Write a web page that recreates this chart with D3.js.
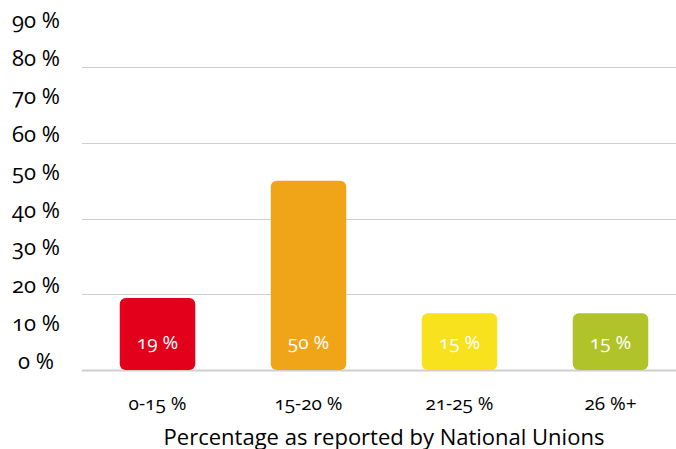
<!DOCTYPE html>
<html>
<head>
<meta charset="utf-8">
<script src="https://cdn.jsdelivr.net/npm/d3@7"></script>
<style>
  html, body { margin: 0; padding: 0; background: #fff; }
  svg text { font-family: "Open Sans", "Lato", sans-serif; font-feature-settings: "onum" 1; }
</style>
</head>
<body>
<svg id="chart" width="676" height="449"></svg>
<script>
// Share of respondents per reported percentage band
const categories = ["0-15 %", "15-20 %", "21-25 %", "26 %+"];
const values = [19, 50, 15, 15];
const valueLabels = ["19 %", "50 %", "15 %", "15 %"];
const colors = ["#E2001A", "#EFA517", "#F8E11D", "#B0C42A"];
const yTicks = [0, 10, 20, 30, 40, 50, 60, 70, 80, 90];
const gridTicks = [0, 20, 40, 60, 80];
const axisTitle = "Percentage as reported by National Unions";

const svg = d3.select("#chart");

const y = d3.scaleLinear().domain([0, 80]).range([370, 67]);
const x = d3.scaleBand().domain(categories).range([82, 686]).paddingInner(0.5).paddingOuter(0.25);

// Horizontal grid lines
svg.append("g").selectAll("line")
  .data(gridTicks)
  .join("line")
  .attr("x1", 82).attr("x2", 676)
  .attr("y1", d => Math.round(y(d)) + 0.5)
  .attr("y2", d => Math.round(y(d)) + 0.5)
  .attr("stroke", "#cfcfcf")
  .attr("stroke-width", d => d === 0 ? 2 : 1);

// Y tick labels (each label sits a little above its value)
svg.append("g").selectAll("text")
  .data(yTicks)
  .join("text")
  .attr("x", 36)
  .attr("y", d => y(d) - 1)
  .attr("text-anchor", "middle")
  .attr("font-size", 22)
  .attr("fill", "#000")
  .text(d => d + " %");

// Bars
svg.append("g").selectAll("rect")
  .data(values)
  .join("rect")
  .attr("x", (d, i) => x(categories[i]))
  .attr("width", x.bandwidth())
  .attr("y", d => y(d))
  .attr("height", d => y(0) - y(d))
  .attr("rx", 6).attr("ry", 6)
  .attr("fill", (d, i) => colors[i]);

// Value labels inside bars
svg.append("g").selectAll("text")
  .data(values)
  .join("text")
  .attr("x", (d, i) => x(categories[i]) + x.bandwidth() / 2)
  .attr("y", 349)
  .attr("text-anchor", "middle")
  .attr("font-size", 19)
  .attr("fill", "#fff")
  .text((d, i) => valueLabels[i]);

// Category labels
svg.append("g").selectAll("text")
  .data(categories)
  .join("text")
  .attr("x", d => x(d) + x.bandwidth() / 2)
  .attr("y", 410)
  .attr("text-anchor", "middle")
  .attr("font-size", 19)
  .attr("fill", "#000")
  .text(d => d);

// Axis title
svg.append("text")
  .attr("x", 384)
  .attr("y", 445)
  .attr("text-anchor", "middle")
  .attr("font-size", 22)
  .attr("fill", "#000")
  .text(axisTitle);
</script>
</body>
</html>
